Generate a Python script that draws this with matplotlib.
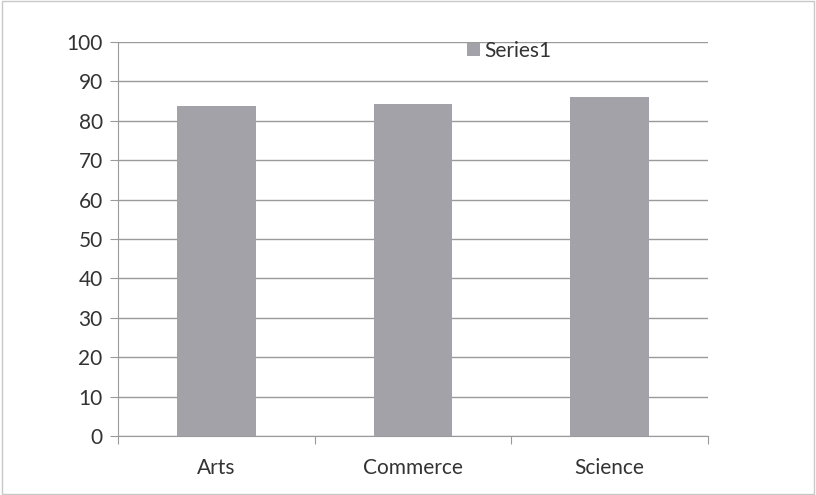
import matplotlib.pyplot as plt
import numpy as np

categories = ['Arts', 'Commerce', 'Science']
series1 = [83.9, 84.4, 86.0]
yticks = [0, 10, 20, 30, 40, 50, 60, 70, 80, 90, 100]

plt.rcParams['font.family'] = ['Lato', 'DejaVu Sans']

fig = plt.figure(figsize=(8.16, 4.95), dpi=100)
ax = fig.add_axes([0.1446, 0.119, 0.723, 0.796])

inds = np.arange(len(categories))
ax.bar(inds, series1, 0.4, color='#a2a2a8', label='Series1', zorder=3)

ax.set_xlim(-0.5, len(categories) - 0.5)
ax.set_ylim(0, 100)
ax.set_yticks(yticks)
ax.yaxis.grid(True, color='#9a9a9a', linewidth=1, zorder=0)

# category labels between boundary ticks
ax.set_xticks(np.arange(-0.5, len(categories)), minor=False)
ax.set_xticklabels([])
ax.set_xticks(inds, minor=True)
ax.set_xticklabels(categories, minor=True)
ax.tick_params(axis='x', which='major', length=6, color='#9a9a9a', direction='out')
ax.tick_params(axis='x', which='minor', length=0, pad=16, labelsize=15, labelcolor='#333333')
ax.tick_params(axis='y', length=6, color='#9a9a9a', labelsize=15, labelcolor='#333333', pad=5)

for side in ['top', 'right']:
    ax.spines[side].set_visible(False)
ax.spines['left'].set_color('#9a9a9a')
ax.spines['bottom'].set_color('#9a9a9a')

ax.legend(loc='upper left', bbox_to_anchor=(0.56, 1.05), frameon=False,
          fontsize=15, handlelength=0.6, handleheight=0.6, handletextpad=0.2,
          labelcolor='#333333')

# outer chart border
fig.patches.append(plt.Rectangle((0.002, 0.002), 0.996, 0.996, transform=fig.transFigure,
                                 fill=False, edgecolor='#c8c8c8', linewidth=1))

fig.savefig('out.png')
